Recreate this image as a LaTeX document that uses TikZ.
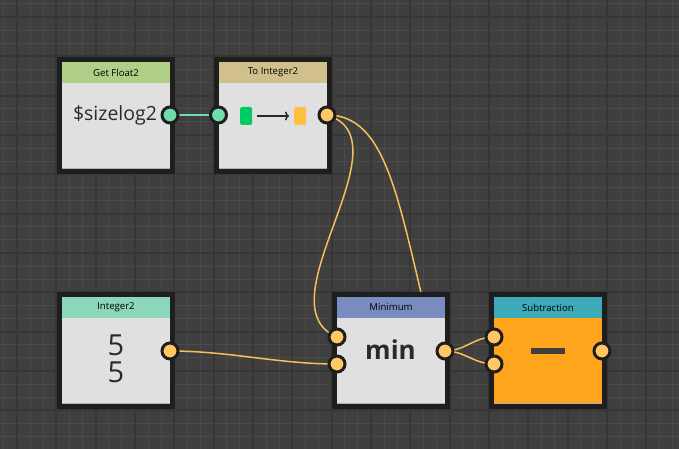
\documentclass[tikz,border=0pt]{standalone}
\usepackage{fontspec}
\setmainfont{Open Sans}
\usetikzlibrary{arrows.meta,calc}
\definecolor{bg}{HTML}{3F3F3F}
\definecolor{minorgrid}{HTML}{4A4A4A}
\definecolor{majorgrid}{HTML}{363636}
\definecolor{nborder}{HTML}{1E1E1E}
\definecolor{nbody}{HTML}{E0E0E0}
\definecolor{hgf}{HTML}{B2CF88}
\definecolor{hti}{HTML}{D2C08C}
\definecolor{hint}{HTML}{8CD6BA}
\definecolor{hmin}{HTML}{788CC0}
\definecolor{hsub}{HTML}{3CAAB8}
\definecolor{subbody}{HTML}{FFA51C}
\definecolor{portmint}{HTML}{70DCA8}
\definecolor{portorange}{HTML}{FFC864}
\definecolor{wirecol}{HTML}{F5C05A}
\definecolor{mintwire}{HTML}{70DCA8}
\definecolor{darktext}{HTML}{2A2A2A}
\definecolor{greenchip}{HTML}{00CC66}
\definecolor{orangechip}{HTML}{FFBF40}
\tikzset{
  nodebox/.style={draw=nborder, line width=5pt, minimum width=113pt, minimum height=112pt, inner sep=0pt, anchor=north west},
  titletext/.style={font=\fontsize{9.6}{11}\selectfont, text=black, inner sep=0pt},
  port/.style={circle, draw=nborder, line width=3pt, minimum size=16pt, inner sep=0pt},
  wire/.style={draw=wirecol, line width=1.5pt},
  mwire/.style={draw=mintwire, line width=1.8pt},
  bodyline/.style={draw=black!30, line width=1.2pt},
}
\newcommand\gnode[6]{%
  \node[nodebox, fill=#5] (#1) at (#2,#3) {};
  \fill[#4] (#2+5,#3+5) rectangle (#2+113,#3+26);
  \node[titletext] (#1title) at (#2+59,#3+15.5) {#6};
  \draw[bodyline] (#2+5,#3+111.4) -- (#2+113,#3+111.4);
}
\begin{document}
\begin{tikzpicture}[x=1pt,y=-1pt]
\useasboundingbox (0,0) rectangle (679,449);
\fill[bg] (0,0) rectangle (679,449);
% grid
\foreach \k in {-1,...,52} {
  \draw[minorgrid, line width=1pt] ({17+13.111*\k},0) -- ++(0,449);
}
\foreach \k in {-1,...,35} {
  \draw[minorgrid, line width=1pt] (0,{17+13.111*\k}) -- ++(679,0);
}
\foreach \k in {0,...,17} {
  \draw[majorgrid, line width=2pt] ({17+39.333*\k},0) -- ++(0,449);
}
\foreach \k in {0,...,11} {
  \draw[majorgrid, line width=2pt] (0,{17+39.333*\k}) -- ++(679,0);
}
% port coordinates
\coordinate (gfout) at (170,115);
\coordinate (tiin) at (218.5,115);
\coordinate (tiout) at (327,115);
\coordinate (i2out) at (170,351);
\coordinate (mnin1) at (337,337);
\coordinate (mnin2) at (337,364);
\coordinate (mnout) at (445,351);
\coordinate (sbin1) at (494,337);
\coordinate (sbin2) at (494,364);
\coordinate (sbout) at (602,351);
\coordinate (hidden) at (430,330);
% wires
\draw[mwire] (gfout) -- (tiin);
\draw[wire] (tiout) .. controls (387,115) and (398,200) .. (hidden);
\draw[wire] (tiout) .. controls (410,140) and (260,305) .. (mnin1);
\draw[wire] (i2out) .. controls +(60,0) and +(-60,0) .. (mnin2);
\draw[wire] (mnout) .. controls +(20,0) and +(-20,0) .. (sbin1);
\draw[wire] (mnout) .. controls +(20,0) and +(-20,0) .. (sbin2);
% nodes
\gnode{gf}{57}{57}{hgf}{nbody}{Get Float2}
\gnode{ti}{214}{57}{hti}{nbody}{To Integer2}
\gnode{ig}{57}{292}{hint}{nbody}{Integer2}
\gnode{mn}{332}{292}{hmin}{nbody}{Minimum}
\gnode{sb}{489}{292}{hsub}{subbody}{Subtraction}
% contents
\node[font=\fontsize{19.5}{22}\selectfont, text=darktext, inner sep=0pt] (gftext) at (115,115) {\$sizelog2};
\fill[greenchip, rounded corners=1.5pt] (240,107) rectangle (252,125);
\draw[darktext, line width=1.5pt, -{To[length=4pt,width=9pt]}] (257,116) -- (289,116);
\fill[orangechip, rounded corners=1.5pt] (294,107) rectangle (306,125);
\node[font=\fontsize{29}{27.3}\selectfont, text=darktext, align=center, inner sep=0pt] (igtext) at (116,359) {5\\5};
\node[font=\fontsize{26}{28}\selectfont\bfseries, text=darktext, inner sep=0pt] (mntext) at (390.5,350) {min};
\fill[darktext!90] (531,348) rectangle (565,354);
% ports
\node[port, fill=portmint] (gfoutp) at (gfout) {};
\node[port, fill=portmint] (tiinp) at (tiin) {};
\node[port, fill=portorange] (tioutp) at (tiout) {};
\node[port, fill=portorange] (i2outp) at (i2out) {};
\node[port, fill=portorange] (mnin1p) at (mnin1) {};
\node[port, fill=portorange] (mnin2p) at (mnin2) {};
\node[port, fill=portorange] (mnoutp) at (mnout) {};
\node[port, fill=portorange] (sbin1p) at (sbin1) {};
\node[port, fill=portorange] (sbin2p) at (sbin2) {};
\node[port, fill=portorange] (sboutp) at (sbout) {};
\end{tikzpicture}
\end{document}
